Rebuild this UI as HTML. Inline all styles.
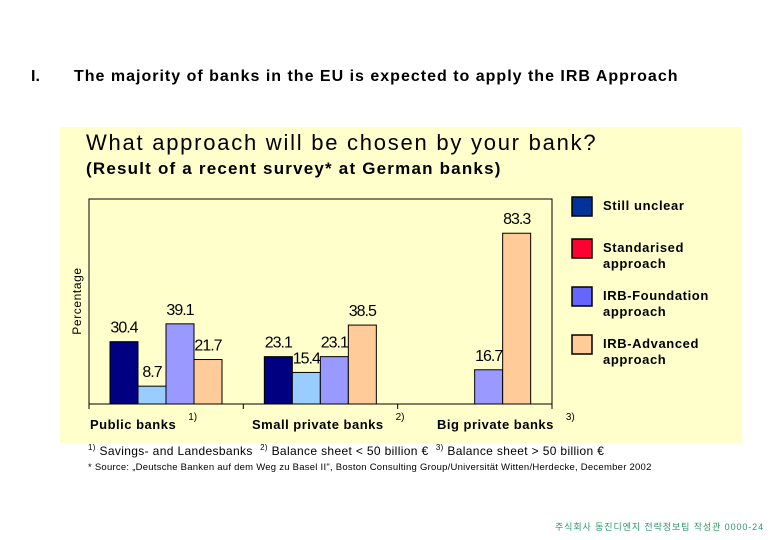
<!DOCTYPE html>
<html><head><meta charset="utf-8"><style>
body{margin:0;width:780px;height:540px;background:#fff;position:relative;overflow:hidden;font-family:"Liberation Sans",sans-serif}
.a{position:absolute;white-space:nowrap}
</style></head><body>
<div class="a" style="left:31px;top:68px;font-size:16px;font-weight:bold">I.</div>
<div class="a" style="left:74px;top:68px;font-size:16px;font-weight:bold;letter-spacing:1.0px">The majority of banks in the EU is expected to apply the IRB Approach</div>
<div class="a" style="left:60px;top:127px;width:682px;height:316px;background:#ffffcc"></div>
<div class="a" style="left:86px;top:130px;font-size:22px;letter-spacing:1.75px">What approach will be chosen by your bank?</div>
<div class="a" style="left:86px;top:159px;font-size:17px;font-weight:bold;letter-spacing:1.2px">(Result of a recent survey* at German banks)</div>
<svg class="a" style="left:0;top:0" width="780" height="540" id="chart"></svg>
<div class="a" style="left:88px;top:443px;font-size:12px;letter-spacing:0.35px"><sup style="font-size:8px">1)</sup> Savings- and Landesbanks &nbsp;<sup style="font-size:8px">2)</sup> Balance sheet &lt; 50 billion € &nbsp;<sup style="font-size:8px">3)</sup> Balance sheet &gt; 50 billion €</div>
<div class="a" style="left:88px;top:462px;font-size:9.5px;letter-spacing:0.25px">* Source: „Deutsche Banken auf dem Weg zu Basel II", Boston Consulting Group/Universität Witten/Herdecke, December 2002</div>
<div class="a" style="left:555px;top:520px;font-size:9px;letter-spacing:0.9px;color:#2a9a6a;font-family:'Liberation Sans','Noto Sans CJK KR',sans-serif">주식회사 동진디엔지 전략정보팀 작성관 0000-24</div>
<script>
const categories=["Public banks","Small private banks","Big private banks"];
const catNotes=["1)","2)","3)"];
const s1=[30.4,23.1,null];
const s2=[8.7,15.4,null];
const s3=[39.1,23.1,16.7];
const s4=[21.7,38.5,83.3];
const series=[s1,s2,s3,s4];
const colors=["#000080","#99ccff","#9999ff","#ffcc99"];
const legendLabels=[["Still unclear"],["Standarised","approach"],["IRB-Foundation","approach"],["IRB-Advanced","approach"]];
const legendColors=["#003399","#ff0033","#6666ff","#ffcc99"];
const NS="http://www.w3.org/2000/svg";
const svg=document.getElementById('chart');
const x0=89,x1=552,yTop=199,yBase=404,maxV=100;
const y=v=>yBase-(v/maxV)*(yBase-yTop);
const gw=(x1-x0)/categories.length,bw=28;
function mk(t,a,p){const e=document.createElementNS(NS,t);for(const k in a)e.setAttribute(k,a[k]);(p||svg).appendChild(e);return e;}
const frame=mk('rect',{x:x0,y:yTop,width:x1-x0,height:yBase-yTop,fill:'none',stroke:'#000','stroke-width':1});


const ax=mk('line',{x1:x0,x2:x1,y1:yBase,y2:yBase,stroke:'#000'});


for(let i=0;i<=categories.length;i++){const tk=mk('line',{x1:x0+i*gw,x2:x0+i*gw,y1:yBase,y2:yBase+5,stroke:'#000'});

}
const labX=[90,252,437];
categories.forEach((c,i)=>{
 const t=mk('text',{x:labX[i],y:429,'font-size':13,'font-weight':'bold','font-family':'Liberation Sans','letter-spacing':0.5});t.textContent=c;
 
 
 const w=t.getComputedTextLength();
 const n=mk('text',{x:labX[i]+w+12,y:420,'font-size':10,'font-family':'Liberation Sans'});n.textContent=catNotes[i];
 
 
 series.forEach((s,j)=>{const v=s[i];if(v==null)return;
  const bx=x0+i*gw+21+j*bw;
  const r=mk('rect',{x:bx,y:y(v),width:bw,height:yBase-y(v),fill:colors[j],stroke:'#000','stroke-width':1});
  
  
  const lt=mk('text',{x:bx+bw/2,y:y(v)-9,'text-anchor':'middle','font-size':16,'font-family':'Liberation Sans Narrow, Liberation Sans','letter-spacing':-1});
  lt.textContent=v.toFixed(1);
  
  
 });
});
const yt=mk('text',{transform:'translate(81,301) rotate(-90)','text-anchor':'middle','font-size':12,'font-family':'Liberation Sans','letter-spacing':0.6});yt.textContent='Percentage';


const ly=[197,239,287,335];
legendLabels.forEach((l,i)=>{
 const b=mk('rect',{x:572,y:ly[i],width:20,height:19,fill:legendColors[i],stroke:'#000','stroke-width':1.5});
 
 
 l.forEach((s,k)=>{const t=mk('text',{x:603,y:ly[i]+13+k*16,'font-size':13,'font-weight':'bold','font-family':'Liberation Sans','letter-spacing':0.6});t.textContent=s;
 
 });
});
</script>
</body></html>
